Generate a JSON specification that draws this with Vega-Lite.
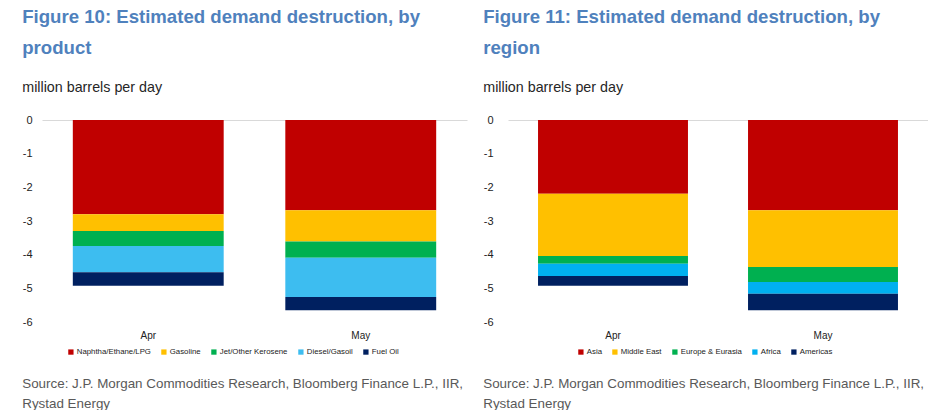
{
  "$schema": "https://vega.github.io/schema/vega-lite/v6.json",
  "background": "white",
  "padding": {"left": 22, "top": 8, "right": 0, "bottom": 0},
  "config": {
    "font": "Liberation Sans",
    "view": {"stroke": null},
    "axis": {"domain": false, "ticks": false, "labelColor": "#222222", "titleColor": "#222222"},
    "legend": {"labelFont": "Liberation Sans", "labelFontSize": 7.8, "labelColor": "#222222", "symbolType": "square", "symbolSize": 28, "symbolStrokeWidth": 0, "labelOffset": 2, "columnPadding": 9, "title": null, "orient": "none", "direction": "horizontal"}
  },
  "resolve": {"scale": {"color": "independent"}, "legend": {"color": "independent"}},
  "spacing": 16,
  "hconcat": [
    {
      "title": {"text": ["Source: J.P. Morgan Commodities Research, Bloomberg Finance L.P., IIR,", "Rystad Energy"], "orient": "bottom", "anchor": "start", "frame": "bounds", "fontSize": 13.4, "fontWeight": "normal", "color": "#595959", "lineHeight": 19.5, "offset": 21},
      "vconcat": [
        {
          "title": {"text": ["Figure 10: Estimated demand destruction, by", "product"], "subtitle": "million barrels per day", "anchor": "start", "frame": "bounds", "fontSize": 18.6, "fontWeight": "bold", "color": "#4F81BD", "lineHeight": 31, "subtitleFontSize": 14.3, "subtitleColor": "#262626", "subtitlePadding": 23, "offset": 19},
          "width": 425,
          "height": 202,
          "data": {"values": [
            {"month": "Apr", "product": "Naphtha/Ethane/LPG", "value": -2.80},
            {"month": "Apr", "product": "Gasoline", "value": -0.50},
            {"month": "Apr", "product": "Jet/Other Kerosene", "value": -0.44},
            {"month": "Apr", "product": "Diesel/Gasoil", "value": -0.78},
            {"month": "Apr", "product": "Fuel Oil", "value": -0.40},
            {"month": "May", "product": "Naphtha/Ethane/LPG", "value": -2.68},
            {"month": "May", "product": "Gasoline", "value": -0.93},
            {"month": "May", "product": "Jet/Other Kerosene", "value": -0.48},
            {"month": "May", "product": "Diesel/Gasoil", "value": -1.17},
            {"month": "May", "product": "Fuel Oil", "value": -0.39}
          ]},
          "transform": [{"calculate": "indexof(['Naphtha/Ethane/LPG', 'Gasoline', 'Jet/Other Kerosene', 'Diesel/Gasoil', 'Fuel Oil'], datum.product)", "as": "stackOrder"}],
          "mark": {"type": "bar"},
          "encoding": {
            "x": {"field": "month", "type": "nominal", "sort": ["Apr", "May"], "title": null,
                  "scale": {"paddingInner": 0.29, "paddingOuter": 0.145},
                  "axis": {"labelAngle": 0, "labelFontSize": 10, "labelPadding": 8, "grid": false}},
            "y": {"field": "value", "type": "quantitative", "stack": "zero", "title": null,
                  "scale": {"domain": [-6, 0], "nice": false},
                  "axis": {"values": [0, -1, -2, -3, -4, -5, -6], "labelExpr": "'' + datum.value", "labelFontSize": 11, "labelPadding": 10,
                           "gridColor": "#d9d9d9", "gridOpacity": {"condition": {"test": "datum.value === 0", "value": 1}, "value": 0}}},
            "color": {"field": "product", "type": "nominal",
                      "sort": ["Naphtha/Ethane/LPG", "Gasoline", "Jet/Other Kerosene", "Diesel/Gasoil", "Fuel Oil"],
                      "scale": {"domain": ["Naphtha/Ethane/LPG", "Gasoline", "Jet/Other Kerosene", "Diesel/Gasoil", "Fuel Oil"],
                                "range": ["#C00000", "#FFC000", "#00B050", "#3DBDF0", "#002060"]},
                      "legend": {"legendX": 25, "legendY": 228}},
            "order": {"field": "stackOrder", "type": "quantitative"}
          }
        }
      ]
    },
    {
      "title": {"text": ["Source: J.P. Morgan Commodities Research, Bloomberg Finance L.P., IIR,", "Rystad Energy"], "orient": "bottom", "anchor": "start", "frame": "bounds", "fontSize": 13.4, "fontWeight": "normal", "color": "#595959", "lineHeight": 19.5, "offset": 21},
      "vconcat": [
        {
          "title": {"text": ["Figure 11: Estimated demand destruction, by", "region"], "subtitle": "million barrels per day", "anchor": "start", "frame": "bounds", "fontSize": 18.6, "fontWeight": "bold", "color": "#4F81BD", "lineHeight": 31, "subtitleFontSize": 14.3, "subtitleColor": "#262626", "subtitlePadding": 23, "offset": 19},
          "width": 420,
          "height": 202,
          "data": {"values": [
            {"month": "Apr", "region": "Asia", "value": -2.19},
            {"month": "Apr", "region": "Middle East", "value": -1.85},
            {"month": "Apr", "region": "Europe & Eurasia", "value": -0.23},
            {"month": "Apr", "region": "Africa", "value": -0.36},
            {"month": "Apr", "region": "Americas", "value": -0.29},
            {"month": "May", "region": "Asia", "value": -2.68},
            {"month": "May", "region": "Middle East", "value": -1.69},
            {"month": "May", "region": "Europe & Eurasia", "value": -0.44},
            {"month": "May", "region": "Africa", "value": -0.35},
            {"month": "May", "region": "Americas", "value": -0.49}
          ]},
          "transform": [{"calculate": "indexof(['Asia', 'Middle East', 'Europe & Eurasia', 'Africa', 'Americas'], datum.region)", "as": "stackOrder"}],
          "mark": {"type": "bar"},
          "encoding": {
            "x": {"field": "month", "type": "nominal", "sort": ["Apr", "May"], "title": null,
                  "scale": {"paddingInner": 0.286, "paddingOuter": 0.143},
                  "axis": {"labelAngle": 0, "labelFontSize": 10, "labelPadding": 8, "grid": false}},
            "y": {"field": "value", "type": "quantitative", "stack": "zero", "title": null,
                  "scale": {"domain": [-6, 0], "nice": false},
                  "axis": {"values": [0, -1, -2, -3, -4, -5, -6], "labelExpr": "'' + datum.value", "labelFontSize": 11, "labelPadding": 15,
                           "gridColor": "#d9d9d9", "gridOpacity": {"condition": {"test": "datum.value === 0", "value": 1}, "value": 0}}},
            "color": {"field": "region", "type": "nominal",
                      "sort": ["Asia", "Middle East", "Europe & Eurasia", "Africa", "Americas"],
                      "scale": {"domain": ["Asia", "Middle East", "Europe & Eurasia", "Africa", "Americas"],
                                "range": ["#C00000", "#FFC000", "#00B050", "#00B0F0", "#002060"]},
                      "legend": {"legendX": 69, "legendY": 228}},
            "order": {"field": "stackOrder", "type": "quantitative"}
          }
        }
      ]
    }
  ]
}
